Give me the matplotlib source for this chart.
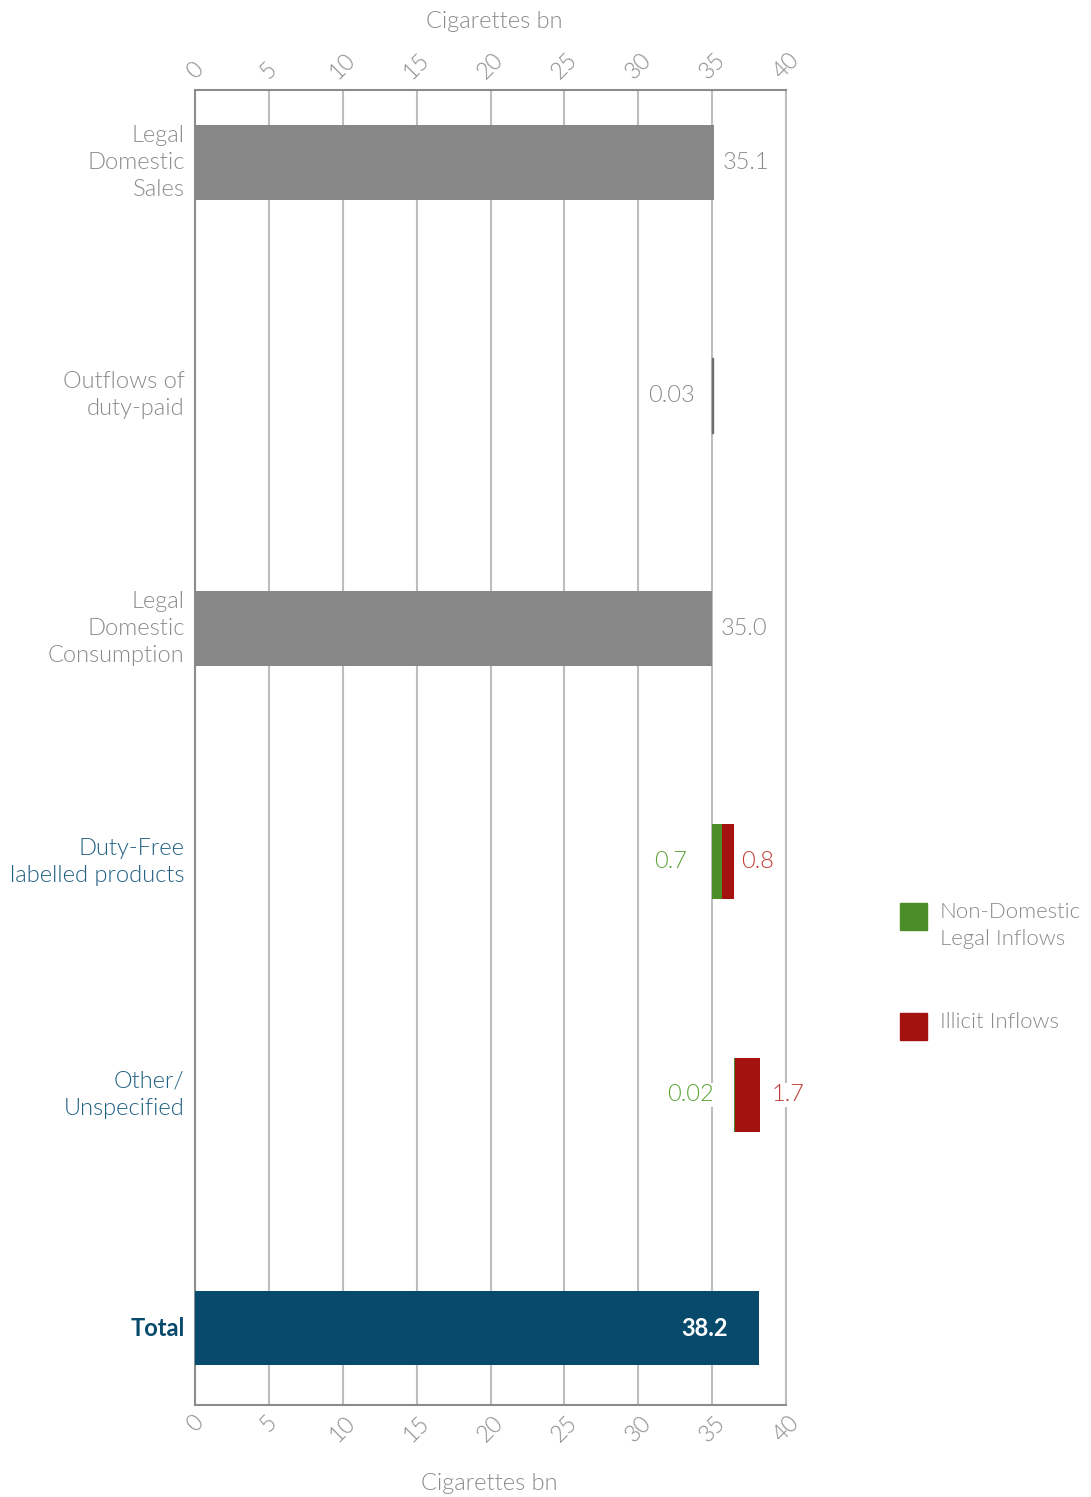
import matplotlib.pyplot as plt
from matplotlib.patches import Rectangle

# categories, top to bottom
categories = ["Legal\nDomestic\nSales", "Outflows of\nduty-paid", "Legal\nDomestic\nConsumption",
              "Duty-Free\nlabelled products", "Other/\nUnspecified", "Total"]
legal_sales = 35.1
outflows = 0.03
legal_consumption = 35.0
non_domestic = [0.7, 0.02]   # duty-free, other
illicit = [0.8, 1.7]         # duty-free, other
total = 38.2
ticks = [0, 5, 10, 15, 20, 25, 30, 35, 40]

GREY = "#878787"
GREEN = "#4a8d29"
RED = "#a3120f"
NAVY = "#074a6b"
LABEL_GREY = "#8a8a8a"
LABEL_BLUE = "#1f5f82"
LIGHT = 300

plt.rcParams['font.family'] = ['Lato', 'DejaVu Sans']

fig = plt.figure(figsize=(10.91, 14.97), dpi=100)
ax = fig.add_axes([195 / 1091, 1 - 1405 / 1497, (786 - 195) / 1091, (1405 - 90) / 1497])

h = 0.32
ax.barh(0, legal_sales, height=h, color=GREY, zorder=3)
ax.barh(1, outflows, left=legal_consumption, height=h, color="#6e6e6e",
        edgecolor="#6e6e6e", linewidth=1, zorder=3)
ax.barh(2, legal_consumption, height=h, color=GREY, zorder=3)

# waterfall of inflows
base = legal_consumption
for i, (g, r) in enumerate(zip(non_domestic, illicit)):
    y = 3 + i
    ax.barh(y, g, left=base, height=h, color=GREEN, zorder=3)
    ax.barh(y, r, left=base + g, height=h, color=RED, zorder=3)
    base += g + r
ax.barh(5, total, height=h, color=NAVY, zorder=3)

ax.set_xlim(0, 40)
ax.set_ylim(5.33, -0.31)
ax.set_xticks(ticks)
ax.set_yticks([])
ax.grid(axis='x', color="#bdbdbd", linewidth=1.5, zorder=0)
ax.tick_params(axis='x', length=0, top=True, labeltop=True, labelsize=16.5,
               labelcolor=LABEL_GREY, pad=5)
for lbl in ax.get_xticklabels():
    lbl.set_rotation(45)
    lbl.set_fontweight(LIGHT)
for side in ['top', 'bottom', 'left']:
    ax.spines[side].set_color("#8c8c8c")
    ax.spines[side].set_linewidth(1.5)
ax.spines['right'].set_color("#bdbdbd")
ax.spines['right'].set_linewidth(1.5)

fs = 17
fig.text(494 / 1091, 1 - 22 / 1497, "Cigarettes bn", ha='center', va='center',
         fontsize=fs, color=LABEL_GREY, fontweight=LIGHT)
fig.text(489 / 1091, 1 - 1483 / 1497, "Cigarettes bn", ha='center', va='center',
         fontsize=fs, color=LABEL_GREY, fontweight=LIGHT)

# category labels
cat_colors = [LABEL_GREY, LABEL_GREY, LABEL_GREY, LABEL_BLUE, LABEL_BLUE, NAVY]
for i, (c, col) in enumerate(zip(categories, cat_colors)):
    ax.text(-0.7, i, c, ha='right', va='center', fontsize=fs, color=col,
            fontweight='bold' if c == "Total" else LIGHT, linespacing=1.35)

# value labels
white_box = dict(facecolor='white', edgecolor='none', pad=1)
ax.text(legal_sales + 0.6, 0, f"{legal_sales:.1f}", ha='left', va='center', fontsize=fs,
        color=LABEL_GREY, fontweight=LIGHT)
ax.text(legal_consumption - 1.2, 1, f"{outflows:.2f}", ha='right', va='center', fontsize=fs,
        color=LABEL_GREY, fontweight=LIGHT)
ax.text(legal_consumption + 0.6, 2, f"{legal_consumption:.1f}", ha='left', va='center',
        fontsize=fs, color=LABEL_GREY, fontweight=LIGHT)
ax.text(33.3, 3, f"{non_domestic[0]}", ha='right', va='center', fontsize=fs,
        color="#5aa335", fontweight=LIGHT)
ax.text(36.95, 3, f"{illicit[0]}", ha='left', va='center', fontsize=fs,
        color="#c23a33", fontweight=LIGHT)
ax.text(35.15, 4, f"{non_domestic[1]}", ha='right', va='center', fontsize=fs,
        color="#5aa335", fontweight=LIGHT, bbox=white_box, zorder=4)
ax.text(39.0, 4, f"{illicit[1]}", ha='left', va='center', fontsize=fs,
        color="#c23a33", fontweight=LIGHT, bbox=white_box, zorder=4)
ax.text(total - 2.1, 5, f"{total:.1f}", ha='right', va='center', fontsize=fs,
        color="white", fontweight='bold', zorder=4)

# legend
for y0, col, txt in [(903, GREEN, "Non-Domestic\nLegal Inflows"), (1013, RED, "Illicit Inflows")]:
    fig.patches.append(Rectangle((900 / 1091, 1 - (y0 + 27) / 1497), 27 / 1091, 27 / 1497,
                                 transform=fig.transFigure, color=col))
    fig.text(940 / 1091, 1 - (y0 - 1) / 1497, txt, ha='left', va='top', fontsize=16,
             color=LABEL_GREY, linespacing=1.45, fontweight=LIGHT)

fig.savefig("out.png", dpi=100)
